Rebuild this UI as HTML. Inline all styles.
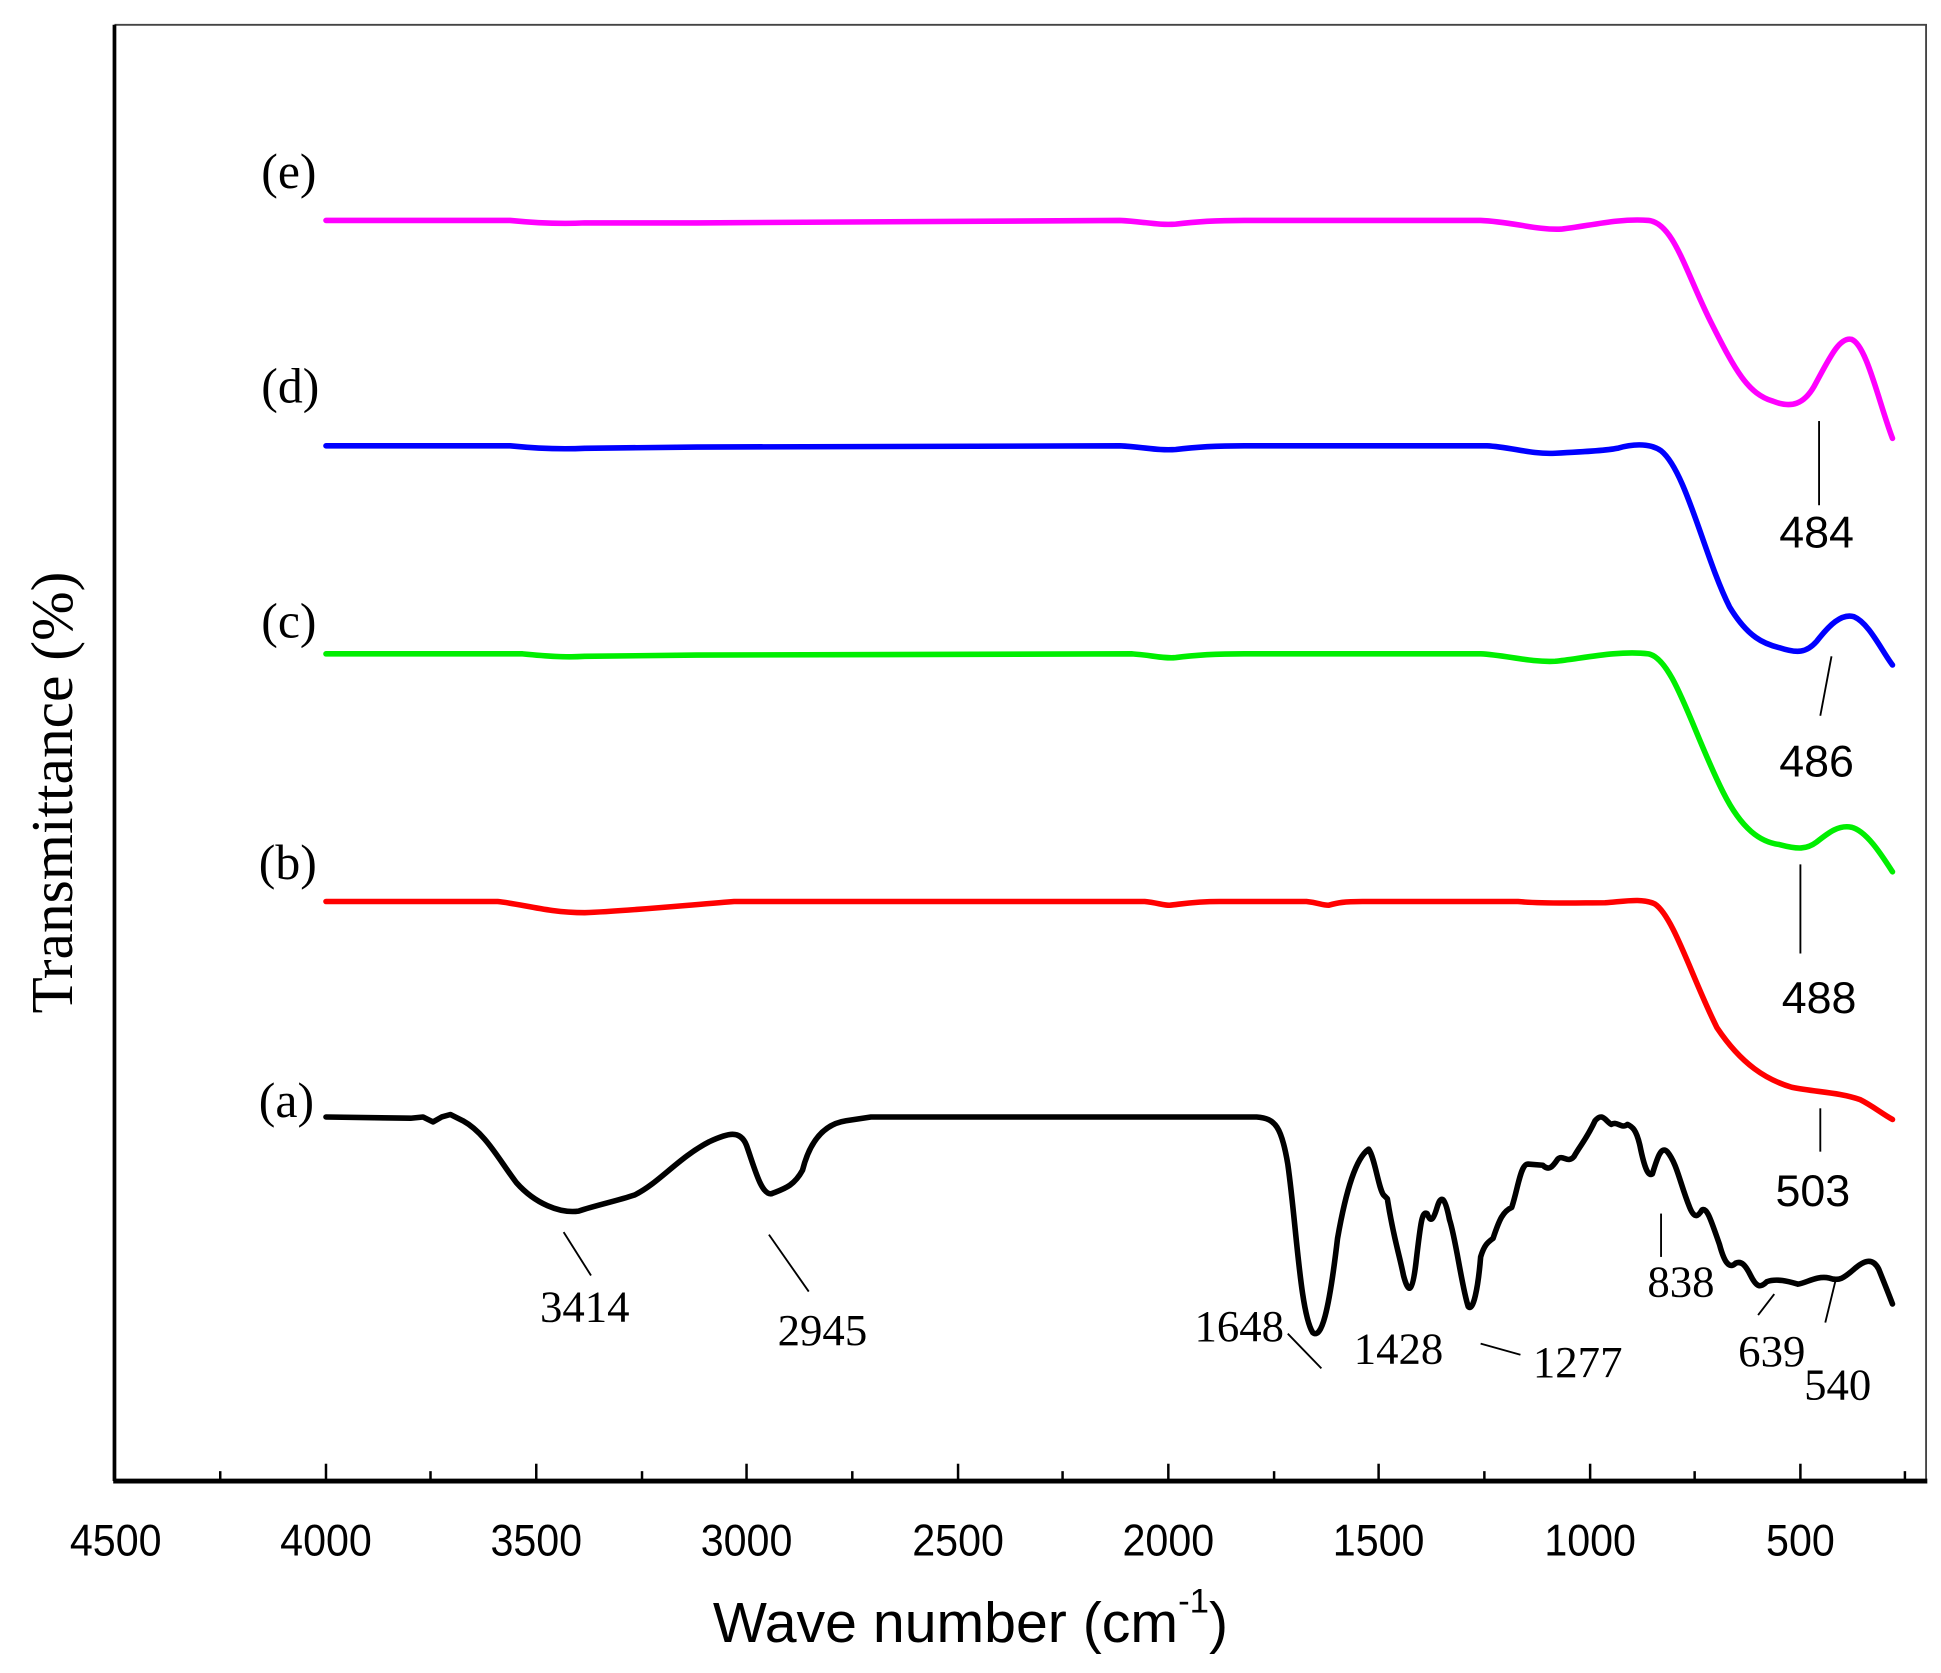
<!DOCTYPE html>
<html><head><meta charset="utf-8"><style>
html,body{margin:0;padding:0;background:#fff;}
svg{display:block;}
.s{font-family:"Liberation Serif",serif;}
.a{font-family:"Liberation Sans",sans-serif;}
</style></head><body>
<svg width="1941" height="1673" viewBox="0 0 1560 1351" preserveAspectRatio="none" xmlns="http://www.w3.org/2000/svg">
<rect width="1560" height="1351" fill="#fff"/>
<path d="M92 20 H1548 V1195" fill="none" stroke="#444" stroke-width="1.5"/>
<line x1="92" y1="20" x2="92" y2="1196" stroke="#000" stroke-width="3"/>
<line x1="91" y1="1196" x2="1549" y2="1196" stroke="#000" stroke-width="4"/>
<g stroke="#000" stroke-width="2">
<line x1="262" y1="1195" x2="262" y2="1182"/><line x1="431" y1="1195" x2="431" y2="1182"/>
<line x1="600" y1="1195" x2="600" y2="1182"/><line x1="770" y1="1195" x2="770" y2="1182"/>
<line x1="939" y1="1195" x2="939" y2="1182"/><line x1="1108" y1="1195" x2="1108" y2="1182"/>
<line x1="1278" y1="1195" x2="1278" y2="1182"/><line x1="1447" y1="1195" x2="1447" y2="1182"/>
<line x1="177" y1="1195" x2="177" y2="1188"/><line x1="346" y1="1195" x2="346" y2="1188"/>
<line x1="516" y1="1195" x2="516" y2="1188"/><line x1="685" y1="1195" x2="685" y2="1188"/>
<line x1="854" y1="1195" x2="854" y2="1188"/><line x1="1024" y1="1195" x2="1024" y2="1188"/>
<line x1="1193" y1="1195" x2="1193" y2="1188"/><line x1="1362" y1="1195" x2="1362" y2="1188"/>
<line x1="1531" y1="1195" x2="1531" y2="1188"/>
</g>
<g class="a" font-size="36" text-anchor="middle" fill="#000">
<text transform="translate(93,1256) scale(0.92,1)">4500</text><text transform="translate(262,1256) scale(0.92,1)">4000</text><text transform="translate(431,1256) scale(0.92,1)">3500</text>
<text transform="translate(600,1256) scale(0.92,1)">3000</text><text transform="translate(770,1256) scale(0.92,1)">2500</text><text transform="translate(939,1256) scale(0.92,1)">2000</text>
<text transform="translate(1108,1256) scale(0.92,1)">1500</text><text transform="translate(1278,1256) scale(0.92,1)">1000</text><text transform="translate(1447,1256) scale(0.92,1)">500</text>
</g>
<text class="a" x="780" y="1326" font-size="46" text-anchor="middle">Wave number (cm<tspan font-size="28" dy="-24">-1</tspan><tspan dy="24">)</tspan></text>
<text class="s" transform="translate(58,640) rotate(-90)" font-size="48" text-anchor="middle">Transmittance (%)</text>
<g fill="none" stroke-width="4.5" stroke-linejoin="round" stroke-linecap="round">
<path stroke="#ff00ff" d="M262 178 L410 178 C430 180 450 181 470 180 L560 180 L900 178 C920 179 930 182 945 181 C960 179 980 178 1000 178 L1190 178 C1215 179 1235 186 1255 185 C1275 183 1300 176 1325 178 C1345 180 1355 220 1375 260 C1395 300 1405 318 1425 324 C1440 330 1450 326 1458 312 C1470 290 1478 272 1488 274 C1500 278 1510 325 1521 354"/>
<path stroke="#0000ff" d="M262 360 L410 360 C430 362 450 363 470 362 L560 361 L900 360 C920 361 930 364 945 363 C960 361 980 360 1000 360 L1195 360 C1215 361 1230 367 1250 366 C1270 365 1290 364 1300 362 C1310 359 1325 357 1335 364 C1355 380 1370 450 1390 490 C1405 515 1418 520 1430 523 C1445 528 1452 527 1460 518 C1470 505 1480 495 1490 498 C1502 503 1512 525 1521 537"/>
<path stroke="#00ee00" d="M262 528 L420 528 C440 530 455 531 470 530 L560 529 L910 528 C925 529 935 532 945 531 C960 529 980 528 1000 528 L1190 528 C1210 529 1230 535 1250 534 C1270 532 1300 525 1325 528 C1345 532 1360 590 1385 640 C1400 670 1415 680 1430 682 C1445 686 1452 686 1460 680 C1470 672 1478 666 1488 668 C1500 671 1512 690 1521 704"/>
<path stroke="#ff0000" d="M262 728 L400 728 C420 730 440 737 470 737 C500 736 540 732 590 728 L920 728 C930 729 935 731 940 731 C950 730 960 728 980 728 L1050 728 C1060 729 1062 731 1068 731 C1075 729 1080 728 1095 728 L1220 728 C1240 730 1270 729 1290 729 C1305 728 1320 725 1330 730 C1345 740 1360 790 1380 830 C1400 860 1420 872 1440 878 C1460 882 1478 882 1495 888 C1505 893 1512 899 1521 904"/>
<path stroke="#000" d="M262 902 L330 903 L340 902 L348 906 L355 902 L362 900 L372 905 C390 915 400 935 415 955 C430 972 450 980 465 978 C480 973 495 970 510 965 C530 955 545 935 570 922 C585 915 595 912 600 925 C607 945 612 965 620 964 C630 960 638 958 645 945 C650 925 660 908 680 905 L700 902 L1010 902 C1025 903 1030 910 1035 940 C1042 990 1045 1060 1055 1076 C1062 1082 1068 1060 1075 1000 C1082 960 1090 935 1100 928 C1105 935 1108 960 1112 965 L1115 968 C1120 1000 1124 1010 1128 1030 C1132 1045 1135 1045 1138 1020 C1142 985 1143 978 1147 980 C1150 988 1152 985 1155 975 C1158 965 1161 965 1165 985 C1170 1000 1175 1040 1180 1055 C1184 1060 1188 1040 1190 1015 C1193 1005 1196 1003 1200 1000 C1205 985 1208 978 1215 975 C1220 960 1222 940 1228 940 L1240 941 C1245 946 1248 942 1252 936 C1256 932 1260 940 1265 934 C1270 925 1275 920 1282 905 C1288 898 1290 905 1295 908 C1300 905 1303 912 1308 908 C1312 910 1315 912 1318 925 C1322 945 1325 950 1328 948 C1332 935 1335 925 1340 930 C1348 940 1350 955 1358 975 C1362 985 1365 982 1368 977 C1372 975 1375 985 1382 1005 C1386 1020 1390 1025 1395 1020 C1400 1018 1403 1022 1407 1030 C1412 1040 1415 1040 1420 1035 C1428 1032 1438 1035 1445 1037 C1452 1036 1460 1030 1470 1032 C1478 1035 1482 1032 1490 1025 C1498 1018 1505 1015 1510 1025 C1514 1035 1518 1045 1521 1053"/>
</g>
<g stroke="#000" stroke-width="1.5">
<line x1="1462" y1="340" x2="1462" y2="408"/>
<line x1="1472" y1="530" x2="1463" y2="578"/>
<line x1="1447" y1="698" x2="1447" y2="770"/>
<line x1="1463" y1="895" x2="1463" y2="930"/>
<line x1="453" y1="995" x2="475" y2="1030"/>
<line x1="618" y1="997" x2="650" y2="1043"/>
<line x1="1035" y1="1077" x2="1062" y2="1105"/>
<line x1="1190" y1="1085" x2="1222" y2="1094"/>
<line x1="1335" y1="980" x2="1335" y2="1015"/>
<line x1="1426" y1="1045" x2="1413" y2="1062"/>
<line x1="1475" y1="1035" x2="1467" y2="1068"/>
</g>
<g class="s" font-size="40" fill="#000">
<text x="210" y="152">(e)</text><text x="210" y="325">(d)</text><text x="210" y="515">(c)</text>
<text x="208" y="710">(b)</text><text x="208" y="902">(a)</text>
</g>
<g class="s" font-size="36" fill="#000" text-anchor="middle">
<text x="470" y="1067">3414</text><text x="661" y="1086">2945</text>
<text x="996" y="1083">1648</text><text x="1124" y="1101">1428</text>
<text x="1268" y="1112">1277</text><text x="1351" y="1047">838</text>
<text x="1424" y="1103">639</text><text x="1477" y="1130">540</text>
</g>
<g class="a" font-size="36" fill="#000" text-anchor="middle">
<text x="1460" y="442">484</text><text x="1460" y="627">486</text>
<text x="1462" y="818">488</text><text x="1457" y="974">503</text>
</g>
</svg>
</body></html>
